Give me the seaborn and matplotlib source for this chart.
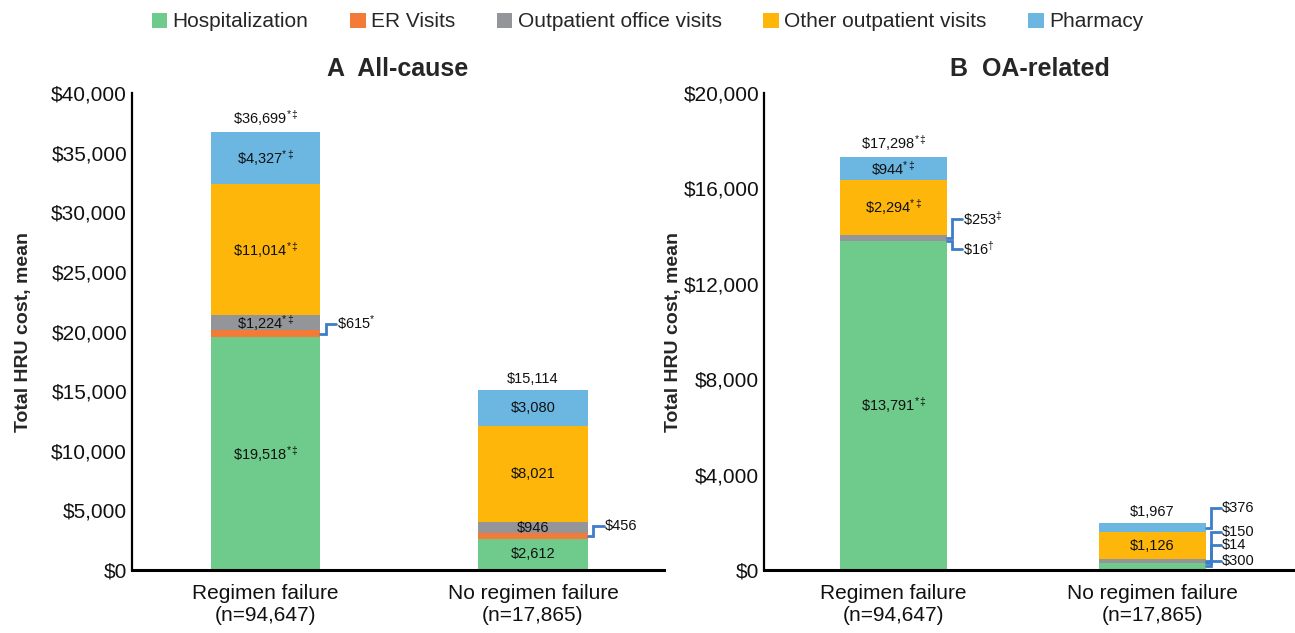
import matplotlib
matplotlib.use("Agg")
import matplotlib.pyplot as plt
import seaborn as sns
from matplotlib.patches import Patch
from matplotlib.ticker import FuncFormatter, MultipleLocator

# ---- data ----
groups = ["Regimen failure\n(n=94,647)", "No regimen failure\n(n=17,865)"]
categories = ["Hospitalization", "ER Visits", "Outpatient office visits",
              "Other outpatient visits", "Pharmacy"]
colors = ["#6ECB8C", "#F47A38", "#939598", "#FFB60A", "#6BB7E2"]

allcause_rf = [19518, 615, 1224, 11014, 4327]
allcause_nrf = [2612, 456, 946, 8021, 3080]
allcause_totals = [36699, 15114]
allcause_rf_marks = ["*‡", "*", "*‡", "*‡", "*‡"]
allcause_nrf_marks = ["", "", "", "", ""]
allcause_total_marks = ["*‡", ""]

oa_rf = [13791, 16, 253, 2294, 944]
oa_nrf = [300, 14, 150, 1126, 376]
oa_totals = [17298, 1967]
oa_rf_marks = ["*‡", "†", "‡", "*‡", "*‡"]
oa_nrf_marks = ["", "", "", "", ""]
oa_total_marks = ["*‡", ""]

# small segments labelled outside with a bracket: (bar, layer, label height)
allcause_brackets = [(0, 1, 20670), (1, 1, 3682)]
oa_brackets = [(0, 2, 14728), (0, 1, 13473),
               (1, 4, 2594), (1, 2, 1590), (1, 1, 1046), (1, 0, 377)]

BRACKET_COLOR = "#3C7DC8"
BAR_WIDTH = 0.41

sns.set_theme(style="white")
plt.rcParams["font.family"] = ["Liberation Sans", "DejaVu Sans"]
plt.rcParams["mathtext.fontset"] = "custom"
plt.rcParams["mathtext.rm"] = "Liberation Sans"
plt.rcParams["mathtext.it"] = "Liberation Sans"
plt.rcParams["mathtext.bf"] = "Liberation Sans:bold"
plt.rcParams["mathtext.default"] = "regular"

TEX = {"*": "*", "‡": r"\ddagger", "†": r"\dagger"}


def money_label(value, marks):
    if not marks:
        return f"${value:,}"
    sup = "".join(TEX[m] for m in marks)
    return r"\$" + f"{value:,}" + "$^{" + sup + "}$"


def draw_panel(ax, title, rf, nrf, rf_marks, nrf_marks, totals, total_marks,
               ymax, ystep, brackets):
    stacks = [rf, nrf]
    marks = [rf_marks, nrf_marks]
    # stacked bars: draw cumulative heights from the top layer down
    for layer in reversed(range(len(categories))):
        cum = [sum(s[:layer + 1]) for s in stacks]
        sns.barplot(x=groups, y=cum, color=colors[layer], saturation=1,
                    width=BAR_WIDTH, linewidth=0, ax=ax)

    bracketed = {(b, l) for b, l, _ in brackets}
    for b, s in enumerate(stacks):
        base = 0
        for layer, v in enumerate(s):
            mid = base + v / 2
            if (b, layer) not in bracketed:
                ax.text(b, mid, money_label(v, marks[b][layer]), ha="center",
                        va="center", fontsize=10.5, color="#111111")
            base += v
        ax.annotate(money_label(totals[b], total_marks[b]), (b, sum(s)),
                    xytext=(0, 3), textcoords="offset points", ha="center",
                    va="bottom", fontsize=10.5, color="#111111")

    for b, layer, ylab in brackets:
        s = stacks[b]
        mid = sum(s[:layer]) + s[layer] / 2
        xr = b + BAR_WIDTH / 2
        ax.plot([xr, xr + 0.02, xr + 0.02, xr + 0.06], [mid, mid, ylab, ylab],
                color=BRACKET_COLOR, lw=2, solid_joinstyle="miter", clip_on=False)
        ax.text(xr + 0.062, ylab, money_label(s[layer], marks[b][layer]),
                ha="left", va="center", fontsize=10.5, color="#111111")

    ax.set_ylim(0, ymax)
    ax.yaxis.set_major_locator(MultipleLocator(ystep))
    ax.yaxis.set_major_formatter(FuncFormatter(lambda v, p: f"${v:,.0f}"))
    ax.tick_params(axis="both", length=0, labelsize=15, colors="#111111")
    ax.tick_params(axis="x", pad=10)
    ax.set_xlabel("")
    ax.set_ylabel("Total HRU cost, mean", fontsize=14, fontweight="bold")
    ax.set_title(title, fontsize=18, fontweight="bold", pad=12)
    for side in ["top", "right"]:
        ax.spines[side].set_visible(False)
    ax.spines["left"].set_color("black")
    ax.spines["left"].set_linewidth(1.6)
    ax.spines["bottom"].set_color("black")
    ax.spines["bottom"].set_linewidth(2.2)


fig = plt.figure(figsize=(12.95, 6.33), dpi=100)
ax_a = fig.add_axes([0.1019, 0.0995, 0.4108, 0.7536])
ax_b = fig.add_axes([0.59, 0.0995, 0.41, 0.7536])

draw_panel(ax_a, "A  All-cause", allcause_rf, allcause_nrf, allcause_rf_marks,
           allcause_nrf_marks, allcause_totals, allcause_total_marks,
           40000, 5000, allcause_brackets)
draw_panel(ax_b, "B  OA-related", oa_rf, oa_nrf, oa_rf_marks, oa_nrf_marks,
           oa_totals, oa_total_marks, 20000, 4000, oa_brackets)

ax_a.set_xlim(-0.5, 1.49)
ax_b.set_xlim(-0.5, 1.55)
ax_a.yaxis.set_label_coords(-0.188, 0.5)
ax_b.yaxis.set_label_coords(-0.155, 0.5)

handles = [Patch(facecolor=c, edgecolor="none", label=n)
           for c, n in zip(colors, categories)]
fig.legend(handles=handles, loc="upper center", bbox_to_anchor=(0.5, 1.01),
           ncol=5, frameon=False, fontsize=15, handlelength=0.75,
           handleheight=0.75, handletextpad=0.25, columnspacing=2.0)

fig.savefig("out.png", dpi=100)
